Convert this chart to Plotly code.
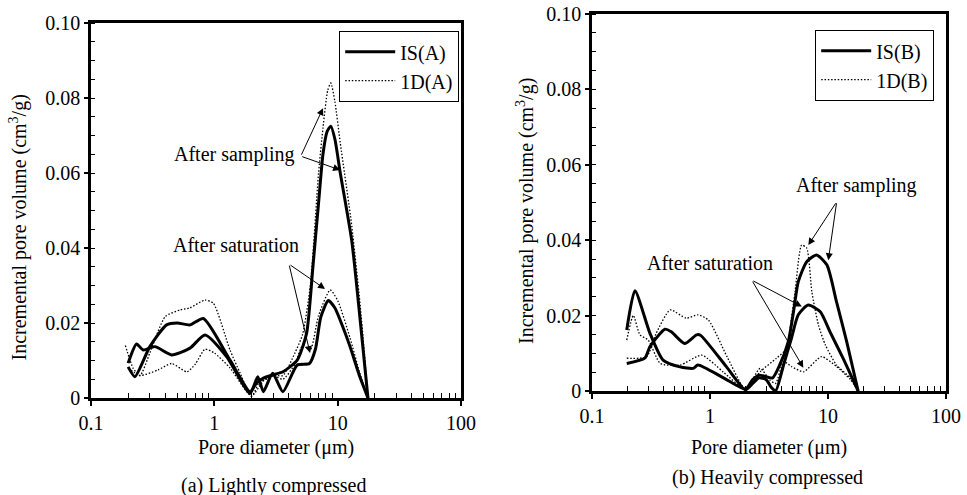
import numpy as np
import plotly.graph_objects as go

# ---------------- data (a) Lightly compressed ----------------
is_a_samp_d = [0.2, 0.227, 0.3, 0.41, 0.5, 0.635, 0.815, 1.34, 1.95, 2.2, 2.5, 3.0, 3.6, 4.7, 5.6, 6.3, 7.0, 7.6, 8.2, 8.8, 9.5, 10.5, 13.0, 15.2, 17.6]
is_a_samp_v = [0.0083, 0.0057, 0.0137, 0.0195, 0.020, 0.0195, 0.0212, 0.0101, 0.0017, 0.004, 0.0053, 0.0062, 0.007, 0.0101, 0.0173, 0.035, 0.052, 0.065, 0.071, 0.0725, 0.069, 0.060, 0.042, 0.021, 0.0]

is_a_sat_d = [0.2, 0.234, 0.265, 0.33, 0.45, 0.635, 0.84, 1.26, 1.95, 2.25, 2.5, 2.97, 3.6, 4.7, 5.9, 6.6, 7.3, 8.4, 9.5, 11.0, 12.6, 15.0, 17.6]
is_a_sat_v = [0.0093, 0.0144, 0.0128, 0.0137, 0.0115, 0.0133, 0.0168, 0.011, 0.0012, 0.0057, 0.0017, 0.0066, 0.0017, 0.0088, 0.0092, 0.013, 0.0216, 0.026, 0.024, 0.019, 0.0137, 0.006, 0.0]

od_a_samp_d = [0.19, 0.22, 0.25, 0.3, 0.4, 0.53, 0.63, 0.84, 0.98, 1.34, 1.62, 2.0, 2.5, 3.0, 3.6, 4.5, 5.2, 6.0, 7.0, 7.6, 8.3, 8.8, 9.5, 10.5, 13.0, 15.5, 17.6]
od_a_samp_v = [0.014, 0.0079, 0.006, 0.012, 0.0217, 0.0235, 0.024, 0.0261, 0.0253, 0.0128, 0.0066, 0.0005, 0.0045, 0.006, 0.006, 0.012, 0.017, 0.03, 0.06, 0.072, 0.082, 0.084, 0.079, 0.068, 0.046, 0.022, 0.0]

od_a_sat_d = [0.2, 0.25, 0.35, 0.45, 0.6, 0.7, 0.84, 1.0, 1.34, 2.0, 2.3, 2.6, 3.0, 3.6, 4.5, 5.2, 6.0, 7.0, 8.7, 10.0, 12.6, 15.0, 17.6]
od_a_sat_v = [0.008, 0.006, 0.0075, 0.0092, 0.007, 0.009, 0.013, 0.012, 0.008, 0.0005, 0.004, 0.005, 0.006, 0.005, 0.009, 0.014, 0.0128, 0.022, 0.0288, 0.026, 0.016, 0.007, 0.0]

# ---------------- data (b) Heavily compressed ----------------
is_b_samp_d = [0.197, 0.231, 0.31, 0.40, 0.557, 0.72, 0.79, 1.3, 2.0, 2.3, 2.6, 3.0, 3.4, 3.9, 4.6, 5.1, 5.6, 6.6, 8.0, 9.8, 11.8, 14.4, 18.0]
is_b_samp_v = [0.0162, 0.0266, 0.0153, 0.0082, 0.0064, 0.006, 0.0069, 0.0035, 0.0005, 0.003, 0.0042, 0.0038, 0.0035, 0.0069, 0.013, 0.021, 0.029, 0.0343, 0.0361, 0.0334, 0.0237, 0.0131, 0.0]

is_b_sat_d = [0.197, 0.28, 0.31, 0.415, 0.47, 0.61, 0.77, 0.83, 1.38, 2.0, 2.3, 2.6, 3.0, 3.3, 3.6, 4.2, 4.9, 5.6, 6.8, 8.6, 10.4, 13.4, 18.0]
is_b_sat_v = [0.0073, 0.0087, 0.0118, 0.0164, 0.0157, 0.0126, 0.0149, 0.0148, 0.0064, 0.0003, 0.002, 0.0035, 0.003, 0.001, 0.0, 0.0069, 0.014, 0.0202, 0.0228, 0.021, 0.0157, 0.0087, 0.0]

od_b_samp_d = [0.197, 0.224, 0.255, 0.3, 0.38, 0.56, 0.85, 1.3, 2.0, 2.66, 3.66, 4.46, 4.9, 5.26, 5.98, 6.6, 7.3, 8.3, 9.5, 11.8, 15.5, 18.0]
od_b_samp_v = [0.0135, 0.020, 0.0149, 0.0135, 0.0073, 0.0069, 0.0095, 0.005, 0.0005, 0.0051, 0.0087, 0.0113, 0.0193, 0.0263, 0.0387, 0.0379, 0.0263, 0.0175, 0.0122, 0.0069, 0.0034, 0.0]

od_b_sat_d = [0.197, 0.29, 0.35, 0.46, 0.63, 0.79, 0.97, 1.4, 2.0, 2.66, 3.2, 3.6, 4.2, 4.9, 6.2, 8.8, 11.8, 15.5, 18.0]
od_b_sat_v = [0.0087, 0.0091, 0.0153, 0.0215, 0.0193, 0.0202, 0.0188, 0.009, 0.0005, 0.006, 0.003, 0.002, 0.0078, 0.0065, 0.0051, 0.0091, 0.0065, 0.003, 0.0]

x_tickvals = [0.1, 1, 10, 100]
x_ticktext = ["0.1", "1", "10", "100"]
y_tickvals = [0, 0.02, 0.04, 0.06, 0.08, 0.10]
y_ticktext = ["0", "0.02", "0.04", "0.06", "0.08", "0.10"]

FONT = "Liberation Serif, Times New Roman, serif"
W, H = 967, 495

def px_x(p):
    return p / W

def px_y(p):
    return 1 - p / H

fig = go.Figure()

solid = dict(color="black", width=3)
dotted = dict(color="black", width=1.3, dash="1.5px,1.8px")

def add(d, v, line, name, xa, ya, legend, show):
    fig.add_trace(go.Scatter(x=d, y=v, mode="lines", line=dict(**line, shape="spline", smoothing=0.6),
                             name=name, xaxis=xa, yaxis=ya, legend=legend, showlegend=show))

add(is_a_samp_d, is_a_samp_v, solid, "IS(A)", "x", "y", "legend", True)
add(is_a_sat_d, is_a_sat_v, solid, "IS(A)", "x", "y", "legend", False)
add(od_a_samp_d, od_a_samp_v, dotted, "1D(A)", "x", "y", "legend", True)
add(od_a_sat_d, od_a_sat_v, dotted, "1D(A)", "x", "y", "legend", False)

add(is_b_samp_d, is_b_samp_v, solid, "IS(B)", "x2", "y2", "legend2", True)
add(is_b_sat_d, is_b_sat_v, solid, "IS(B)", "x2", "y2", "legend2", False)
add(od_b_samp_d, od_b_samp_v, dotted, "1D(B)", "x2", "y2", "legend2", True)
add(od_b_sat_d, od_b_sat_v, dotted, "1D(B)", "x2", "y2", "legend2", False)

def xaxis(domain, anchor):
    return dict(type="log", range=[-1, 2], domain=domain, anchor=anchor, automargin=False,
                tickvals=x_tickvals, ticktext=x_ticktext, ticks="outside", ticklen=5,
                tickwidth=1.5, tickcolor="black",
                minor=dict(tickvals=[k * 10 ** e for e in (-1, 0, 1) for k in range(2, 10)],
                           ticks="inside", ticklen=5, tickwidth=1.2, tickcolor="black"),
                showline=True, linewidth=2.5, linecolor="black", mirror=True,
                showgrid=False, zeroline=False,
                tickfont=dict(family=FONT, size=20, color="black"))

def yaxis(domain, anchor):
    return dict(range=[0, 0.1], domain=domain, anchor=anchor, automargin=False,
                tickvals=y_tickvals, ticktext=y_ticktext, ticks="outside", ticklen=4,
                tickwidth=1.5, tickcolor="black",
                minor=dict(dtick=0.005, ticks="inside", ticklen=4, tickwidth=1.2, tickcolor="black"),
                showline=True, linewidth=2.5, linecolor="black", mirror=True,
                showgrid=False, zeroline=False,
                tickfont=dict(family=FONT, size=20, color="black"))

legend_common = dict(bgcolor="white", bordercolor="black", borderwidth=1.2,
                     font=dict(family=FONT, size=20, color="black"),
                     xanchor="left", yanchor="top", tracegroupgap=0,
                     itemwidth=50, entrywidth=70)

fig.update_layout(
    width=W, height=H, margin=dict(l=0, r=0, t=0, b=0, autoexpand=False),
    paper_bgcolor="white", plot_bgcolor="white",
    font=dict(family=FONT, size=20, color="black"),
    xaxis=xaxis([px_x(91), px_x(461)], "y"),
    yaxis=yaxis([px_y(398), px_y(23)], "x"),
    xaxis2=xaxis([px_x(592), px_x(946)], "y2"),
    yaxis2=yaxis([px_y(391), px_y(14)], "x2"),
    legend=dict(x=px_x(339), y=px_y(31), **legend_common),
    legend2=dict(x=px_x(815), y=px_y(30), **legend_common),
)

ann = []
def text_ann(t, x, y, angle=0):
    ann.append(dict(text=t, x=x, y=y, xref="paper", yref="paper", showarrow=False,
                    textangle=angle, xanchor="center", yanchor="middle",
                    font=dict(family=FONT, size=20, color="black")))

ytitle = "Incremental pore volume (cm<sup>3</sup>/g)"
text_ann(ytitle, px_x(17.5), px_y(228), -90)
text_ann(ytitle, px_x(525), px_y(211), -90)
text_ann("Pore diameter (μm)", px_x(276), px_y(447))
text_ann("Pore diameter (μm)", px_x(769), px_y(447))
text_ann("(a) Lightly compressed", px_x(274), px_y(485))
text_ann("(b) Heavily compressed", px_x(767), px_y(477))

def label(t, d, v, xr, yr):
    ann.append(dict(text=t, x=np.log10(d), y=v, xref=xr, yref=yr, showarrow=False,
                    xanchor="center", yanchor="middle",
                    font=dict(family=FONT, size=20, color="black")))

def arrow(d0, v0, d1, v1, xr, yr):
    ann.append(dict(text="", x=np.log10(d1), y=v1, ax=np.log10(d0), ay=v0,
                    xref=xr, yref=yr, axref=xr, ayref=yr, showarrow=True,
                    arrowhead=2, arrowsize=1.4, arrowwidth=1, arrowcolor="black"))

# (a)
label("After sampling", 1.47, 0.0648, "x", "y")
arrow(5.02, 0.0645, 7.61, 0.0773, "x", "y")
arrow(5.02, 0.0645, 10.46, 0.0608, "x", "y")
label("After saturation", 1.5, 0.0408, "x", "y")
arrow(4.03, 0.0357, 7.9, 0.0291, "x", "y")
arrow(4.03, 0.0357, 5.97, 0.012, "x", "y")
# (b)
label("After sampling", 17.6, 0.0544, "x2", "y2")
arrow(11.85, 0.0502, 6.81, 0.0387, "x2", "y2")
arrow(11.85, 0.0502, 10.06, 0.0347, "x2", "y2")
label("After saturation", 1.0, 0.034, "x2", "y2")
arrow(2.26, 0.0294, 6.0, 0.0224, "x2", "y2")
arrow(2.26, 0.0294, 6.18, 0.0062, "x2", "y2")

fig.update_layout(annotations=ann)
fig.write_html("out.html")
